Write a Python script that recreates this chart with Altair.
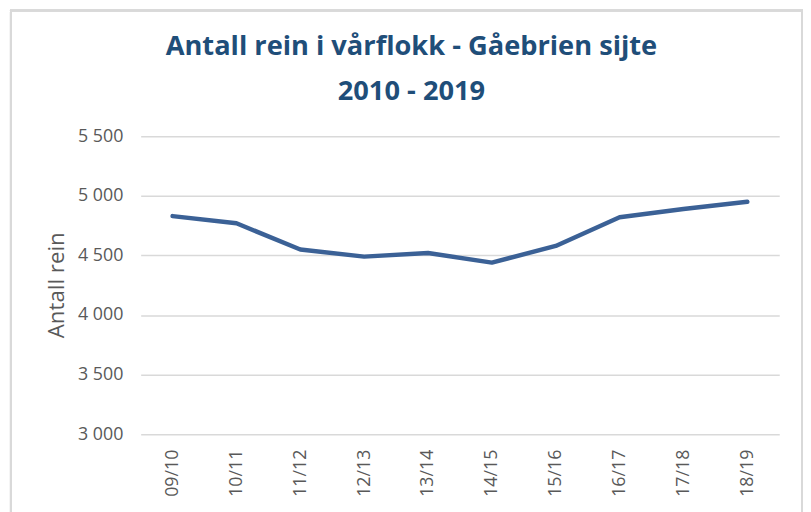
import altair as alt
import pandas as pd

seasons = ["09/10", "10/11", "11/12", "12/13", "13/14", "14/15", "15/16", "16/17", "17/18", "18/19"]
reindeer = [4830, 4770, 4550, 4490, 4520, 4440, 4580, 4820, 4890, 4950]

title_lines = ["Antall rein i vårflokk - Gåebrien sijte", "2010 - 2019"]
y_title = "Antall rein"
y_ticks = [3000, 3500, 4000, 4500, 5000, 5500]

df = pd.DataFrame({"season": seasons, "rein": reindeer})

line = alt.Chart(df).mark_line(color="#3b6196", strokeWidth=4.5, strokeCap="round", strokeJoin="round").encode(
    x=alt.X("season:N", sort=seasons, title=None,
            scale=alt.Scale(paddingInner=0, paddingOuter=0.5),
            axis=alt.Axis(labelAngle=270, labelFont="Open Sans", labelFontSize=18,
                          labelColor="#595959", ticks=False, domain=False, labelPadding=15)),
    y=alt.Y("rein:Q", title=y_title,
            scale=alt.Scale(domain=[3000, 5500], nice=False, zero=False),
            axis=alt.Axis(values=y_ticks, labelExpr="replace(format(datum.value, ','), ',', ' ')",
                          labelFont="Open Sans", labelFontSize=18, labelColor="#595959",
                          ticks=False, domain=False, labelPadding=18,
                          gridColor="#d9d9d9", gridWidth=1.5,
                          titleFont="Open Sans", titleFontSize=22.5, titleColor="#595959",
                          titleFontWeight="normal", titleAngle=270, titleX=-85, titleY=150,
                          titleBaseline="middle", titleAlign="center")),
)

# decorative chart-area frame
frame = alt.Chart(df).mark_rect(fill=None, stroke="#d9d9d9", strokeWidth=2).encode(
    x=alt.value(-131), x2=alt.value(668), y=alt.value(-127), y2=alt.value(420)
)

chart = alt.layer(frame, line).properties(
    width=645,
    height=301,
    title=alt.TitleParams(
        text=title_lines,
        font="Open Sans",
        fontSize=27.5,
        fontWeight="bold",
        color="#1f4e79",
        anchor="middle",
        dx=-49,
        baseline="alphabetic",
        offset=-119,
        lineHeight=46,
    ),
    autosize=alt.AutoSizeParams(type="none"),
    padding={"left": 134, "top": 127, "right": 24, "bottom": 76},
).configure_view(stroke=None)

chart.save("out.html", embed_options={"renderer": "svg", "actions": False})
